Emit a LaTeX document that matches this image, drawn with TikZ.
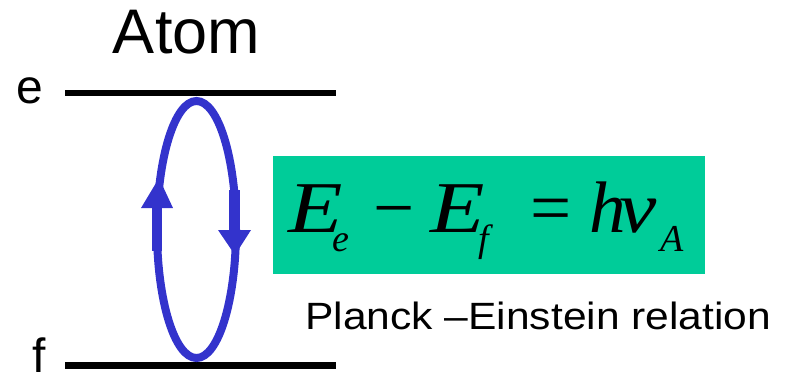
\documentclass[tikz,border=0pt]{standalone}
\usepackage{fontspec}
\setmainfont{Liberation Sans}
\newfontfamily\eqfont{Liberation Serif}
\definecolor{loopblue}{HTML}{3333CC}
\definecolor{eqgreen}{HTML}{00CC99}
\begin{document}
\begin{tikzpicture}[x=1pt,y=-1pt,
  level/.style={line width=6.5pt,black},
  lbl/.style={inner sep=0pt,anchor=base},
  eqbig/.style={inner sep=0pt,anchor=base west,font=\eqfont\itshape\fontsize{73}{80}\selectfont},
  eqsub/.style={inner sep=0pt,anchor=base west,font=\eqfont\itshape\fontsize{38}{42}\selectfont},
  eqop/.style={inner sep=0pt,anchor=base west,font=\eqfont\fontsize{73}{80}\selectfont},
  arrowfill/.style={fill=loopblue,draw=none}]
\useasboundingbox (0,0) rectangle (788,373);
% energy levels
\coordinate (e1) at (65,93);
\coordinate (e2) at (336,93);
\coordinate (f1) at (65,365.5);
\coordinate (f2) at (336,365.5);
\draw[level] (e1) -- (e2);
\draw[level] (f1) -- (f2);
\node[lbl,font=\fontsize{63}{70}\selectfont] (atom) at (186.5,53) {Atom};
\node[lbl,font=\fontsize{48}{52}\selectfont] (elab) at (29.5,103) {e};
\node[lbl,font=\fontsize{48}{52}\selectfont] (flab) at (39,372) {f};
% loop
\draw[loopblue,line width=8pt] (196.5,229.5) ellipse [x radius=39.5,y radius=128.5];
\fill[arrowfill] (152,208) rectangle (162,251);
\fill[arrowfill] (141,208) -- (173,208) -- (159,178) -- cycle;
\fill[arrowfill] (229,190) rectangle (240,230);
\fill[arrowfill] (218,230) -- (251,230) -- (235,255) -- cycle;
% equation box
\node[fill=eqgreen,minimum width=432pt,minimum height=118pt,inner sep=0pt,anchor=north west] (box) at (273,156) {};
\node[eqbig,xscale=1.22,transform shape] (E1) at (288,232) {E};
\node[eqsub] (se) at (332,251) {e};
\node[eqop] (minus) at (373,232) {−};
\node[eqbig,xscale=1.22,transform shape] (E2) at (430,232) {E};
\node[eqsub] (sf) at (478,251) {f};
\node[eqop] (eq) at (530,232) {=};
\node[eqbig] (h) at (589,232) {h};
\node[eqbig,xscale=1.15,transform shape] (v) at (619,232) {v};
\node[eqsub] (sA) at (660,251) {A};
\node[inner sep=0pt,anchor=base west,font=\fontsize{38}{42}\selectfont,xscale=1.12,transform shape] (planck) at (305,329) {Planck –Einstein relation};
\end{tikzpicture}
\end{document}
